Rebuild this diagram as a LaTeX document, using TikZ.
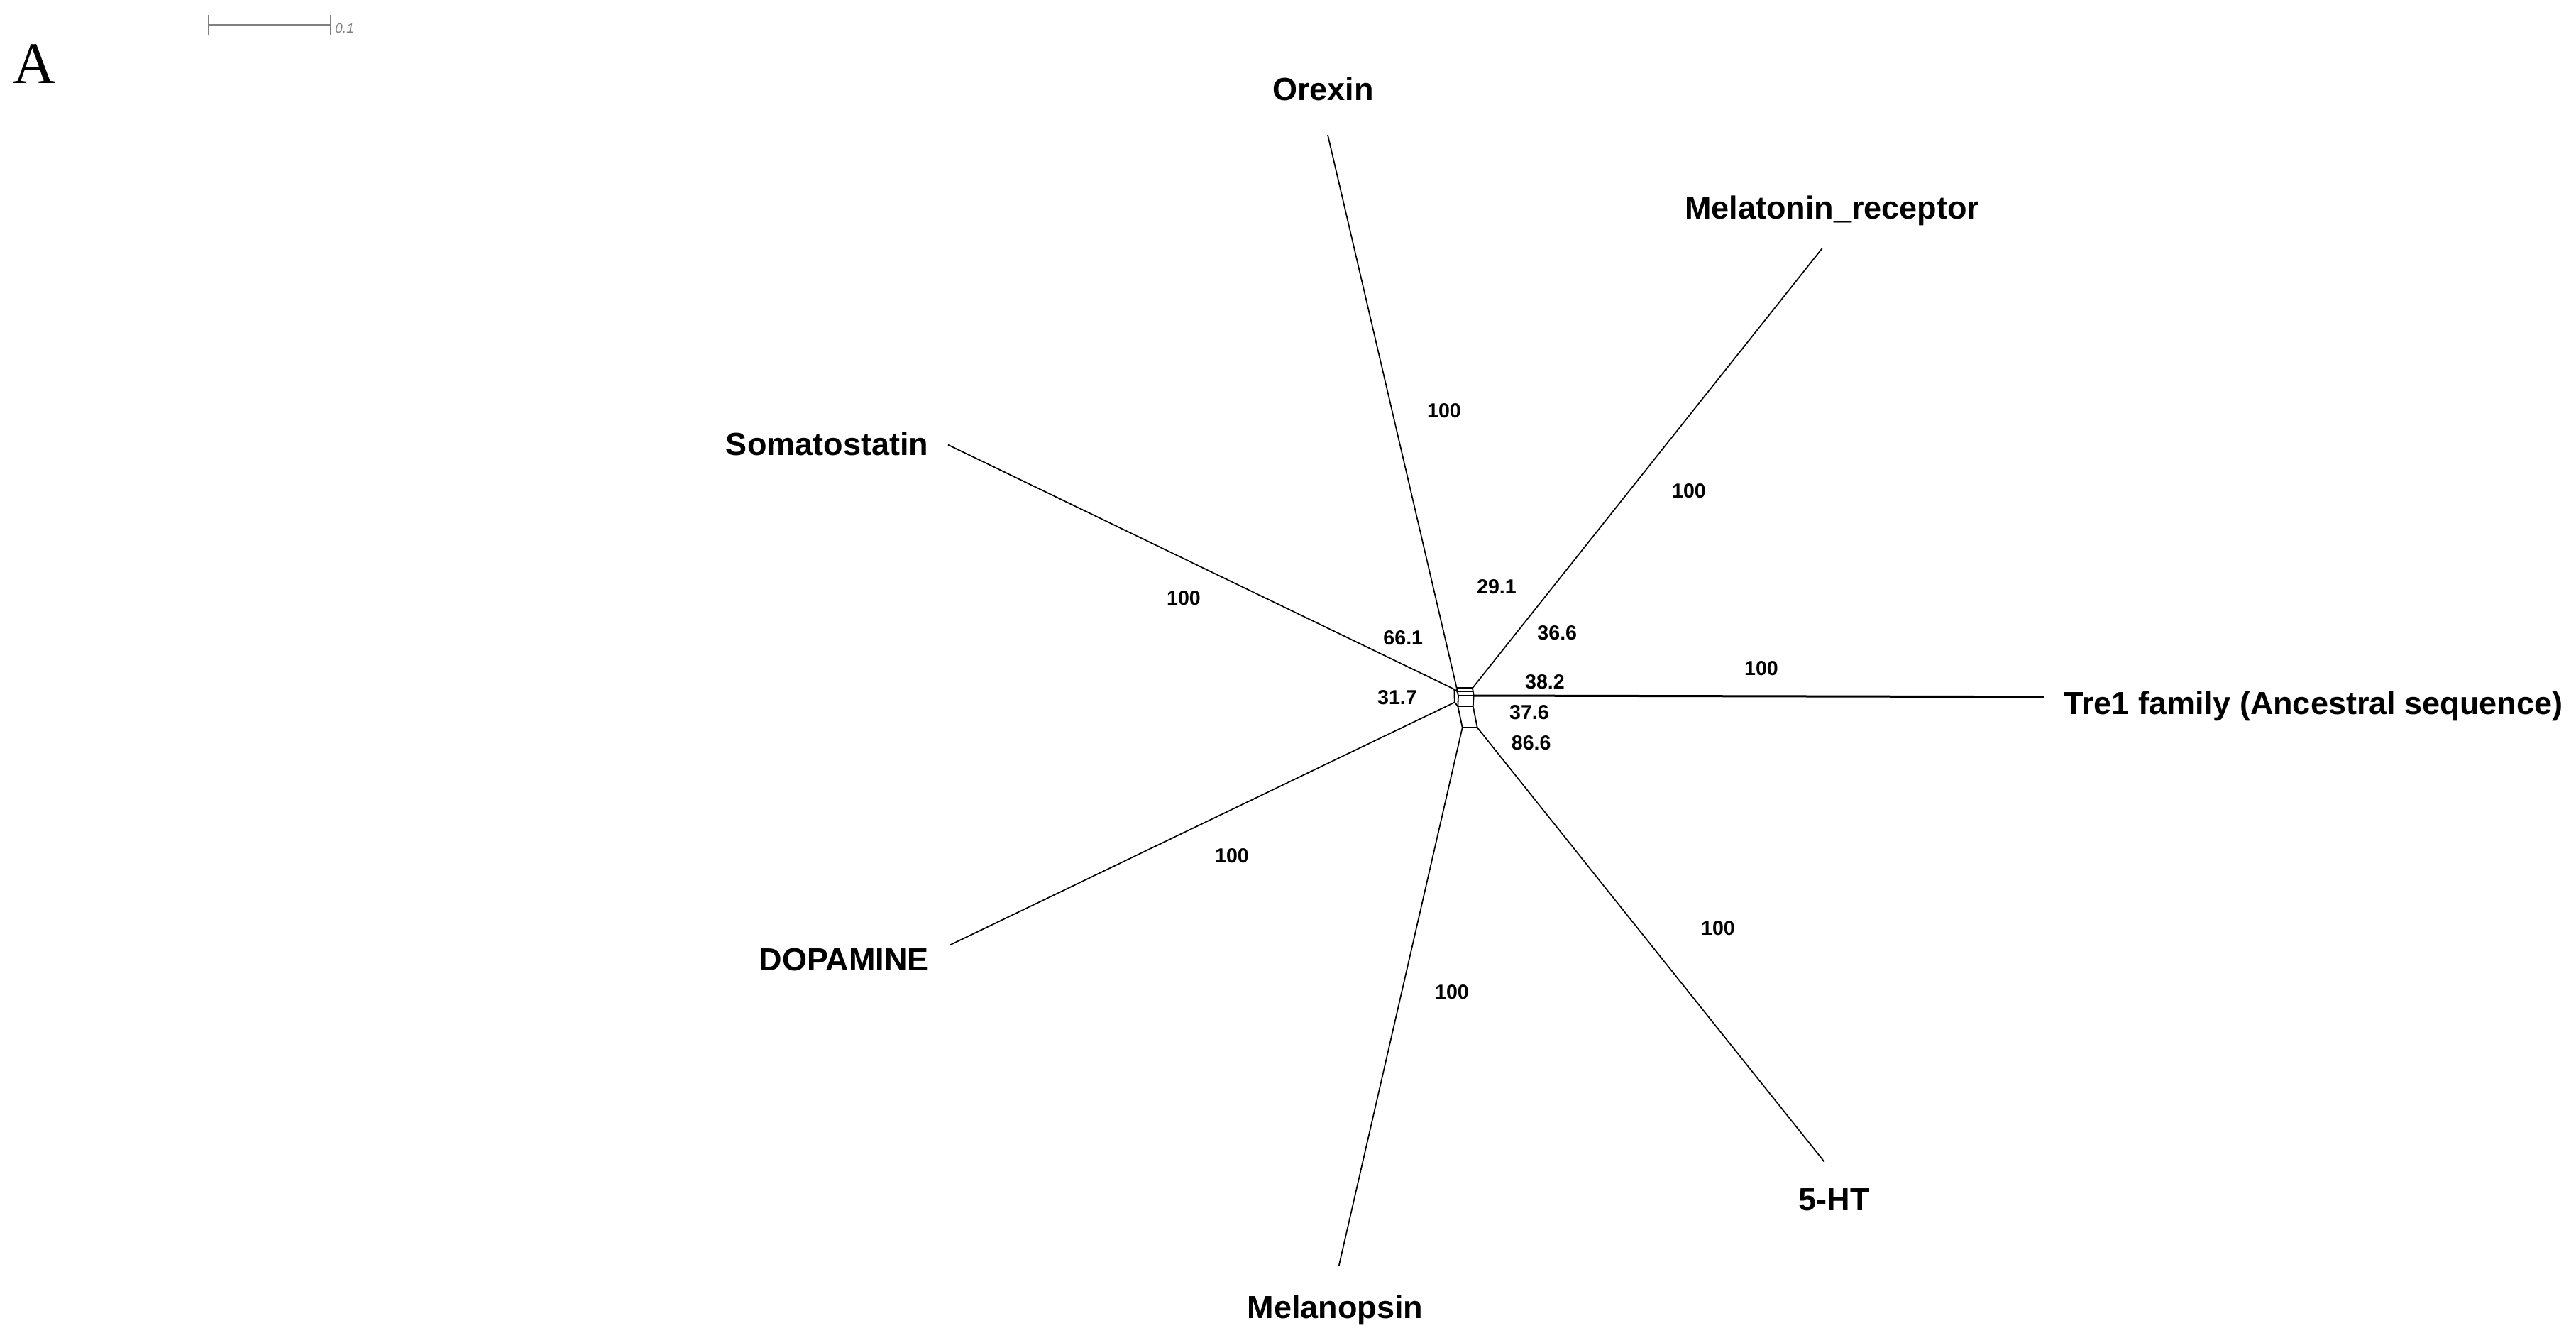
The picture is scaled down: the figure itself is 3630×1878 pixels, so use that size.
\documentclass[tikz,border=0pt]{standalone}
\usepackage{fontspec}
\setmainfont{Liberation Sans}
\newfontfamily\serifA{Liberation Serif}
\begin{document}
\begin{tikzpicture}[x=0.5pt,y=-0.5pt,
  leaf/.style={font=\fontsize{22.5}{24}\selectfont\bfseries, inner sep=0pt},
  supp/.style={font=\fontsize{14.3}{16}\selectfont\bfseries, inner sep=0pt},
  edge/.style={line width=0.85pt, black},
  tedge/.style={line width=1.5pt, black},
  net/.style={line width=0.9pt, black, line join=miter}]
\useasboundingbox (0,0) rectangle (3630,1878);
% panel letter and scale bar
\node[inner sep=0pt, anchor=base west, font=\serifA\fontsize{41.5}{44}\selectfont] (panelA) at (18,118) {A};
\coordinate (sb1) at (294,35);
\coordinate (sb2) at (466,35);
\draw[gray, line width=0.7pt] (sb1) -- (sb2);
\draw[gray, line width=0.7pt] ([yshift=7pt]sb1) -- ([yshift=-7pt]sb1);
\draw[gray, line width=0.7pt] ([yshift=7pt]sb2) -- ([yshift=-7pt]sb2);
\node[inner sep=0pt, anchor=west, text=gray, font=\fontsize{9.5}{10}\selectfont\itshape] (sblab) at (472,40) {0.1};
% central network points
\coordinate (L1) at (2052.7,969.3);
\coordinate (L2) at (2053.3,974);
\coordinate (L3) at (2055,980);
\coordinate (L4) at (2054.3,995);
\coordinate (L5) at (2060.7,1025);
\coordinate (R1) at (2075,969.3);
\coordinate (R2) at (2075.7,974);
\coordinate (R3) at (2076.7,980);
\coordinate (R4) at (2075.7,995);
\coordinate (R5) at (2081.7,1025);
\coordinate (S0) at (2049.3,971);
\coordinate (D0) at (2049.8,989.5);
\draw[net] (L1) -- (R1) (L2) -- (R2) (L3) -- (R3) (L4) -- (R4) (L5) -- (R5);
\draw[net] (L1) -- (L2) -- (L3) -- (L4) -- (L5);
\draw[net] (R1) -- (R2) -- (R3) -- (R4) -- (R5);
\draw[net] (S0) -- (L2) (S0) -- (D0) -- (L4);
% leaf tips
\coordinate (tOrexin) at (1871,190);
\coordinate (tMel) at (2567.6,350);
\coordinate (tSom) at (1336,626.7);
\coordinate (tTre) at (2880,981.7);
\coordinate (tDop) at (1338,1331.7);
\coordinate (tMelan) at (1886.7,1783.3);
\coordinate (tHT) at (2570.7,1636.7);
% branches
\draw[edge] (L1) -- (tOrexin);
\draw[edge] (R1) -- (tMel);
\draw[edge] (S0) -- (tSom);
\draw[tedge] (R3) -- (tTre);
\draw[edge] (D0) -- (tDop);
\draw[edge] (L5) -- (tMelan);
\draw[edge] (R5) -- (tHT);
% leaf labels
\node[leaf, anchor=base] (Orexin) at (1864.5,141.7) {Orexin};
\node[leaf, anchor=base] (Mel) at (2581.8,308.3) {Melatonin\_receptor};
\node[leaf, anchor=base] (Som) at (1165.5,641.7) {Somatostatin};
\node[leaf, anchor=base west] (Tre) at (2908,1006) {Tre1 family (Ancestral sequence)};
\node[leaf, anchor=base] (Dop) at (1189.2,1367) {DOPAMINE};
\node[leaf, anchor=base] (Melan) at (1881.3,1857) {Melanopsin};
\node[leaf, anchor=base] (HT) at (2584.7,1705) {5-HT};
% support values
\node[supp] (sOrexin) at (2035,579) {100};
\node[supp] (sMel) at (2380,692) {100};
\node[supp] (sSom) at (1668,843) {100};
\node[supp] (sTre) at (2482,942) {100};
\node[supp] (sDop) at (1736,1206) {100};
\node[supp] (sMelan) at (2046,1398) {100};
\node[supp] (sHT) at (2421,1308) {100};
\node[supp] (s291) at (2109,827) {29.1};
\node[supp] (s661) at (1977.3,899) {66.1};
\node[supp] (s366) at (2194.3,891.7) {36.6};
\node[supp] (s382) at (2177,961) {38.2};
\node[supp] (s317) at (1969,982.3) {31.7};
\node[supp] (s376) at (2155,1004) {37.6};
\node[supp] (s866) at (2157.7,1046.7) {86.6};
\end{tikzpicture}
\end{document}
